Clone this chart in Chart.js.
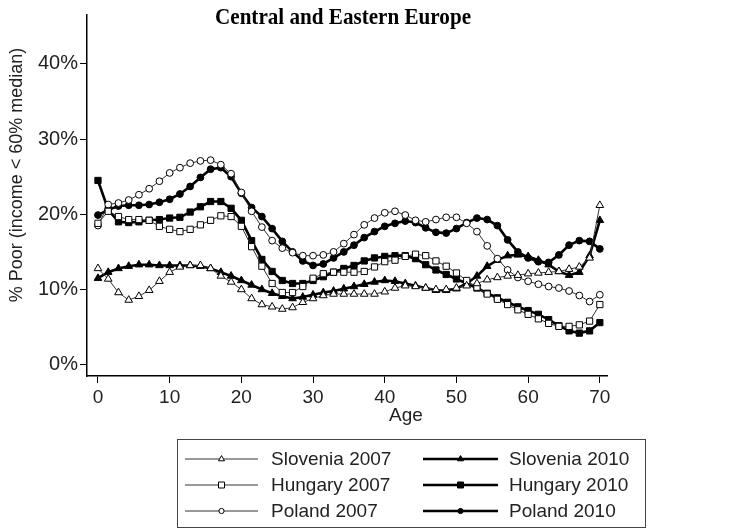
<!DOCTYPE html>
<html>
<head>
<meta charset="utf-8">
<script src="https://cdn.jsdelivr.net/npm/chart.js@4.4.1/dist/chart.umd.min.js"></script>
<style>
  html, body { margin: 0; padding: 0; background: #fff; }
  #wrap { width: 736px; height: 529px; }
</style>
</head>
<body>
<div id="wrap"><canvas id="myChart" width="736" height="529"></canvas></div>
<script>
// age grid (50 points, 0-70)
const ages = [0, 1.43, 2.86, 4.29, 5.71, 7.14, 8.57, 10, 11.43, 12.86,
  14.29, 15.71, 17.14, 18.57, 20, 21.43, 22.86, 24.29, 25.71, 27.14,
  28.57, 30, 31.43, 32.86, 34.29, 35.71, 37.14, 38.57, 40, 41.43,
  42.86, 44.29, 45.71, 47.14, 48.57, 50, 51.43, 52.86, 54.29, 55.71,
  57.14, 58.57, 60, 61.43, 62.86, 64.29, 65.71, 67.14, 68.57, 70];

const slovenia2007 = [12.8, 11.4, 9.6, 8.6, 9.1, 9.9, 11.1, 12.3, 13.0, 13.2,
  13.2, 12.8, 11.8, 11.0, 10.0, 8.8, 8.0, 7.7, 7.4, 7.6,
  8.3, 8.8, 9.2, 9.4, 9.4, 9.4, 9.4, 9.4, 9.7, 10.2,
  10.5, 10.4, 10.2, 10.0, 10.0, 10.2, 10.5, 10.8, 11.3, 11.6,
  11.8, 11.9, 12.1, 12.2, 12.3, 12.4, 12.7, 13.0, 14.2, 21.2];

const hungary2007 = [18.8, 20.4, 19.7, 19.3, 19.3, 19.2, 18.4, 18.0, 17.7, 18.0,
  18.6, 19.2, 19.8, 19.7, 18.4, 15.7, 13.1, 10.8, 9.6, 9.6,
  10.4, 11.5, 12.1, 12.3, 12.3, 12.3, 12.4, 13.0, 13.7, 13.9,
  14.4, 14.7, 14.5, 13.8, 13.1, 12.2, 11.2, 10.3, 9.4, 8.7,
  8.0, 7.3, 6.7, 6.1, 5.5, 5.1, 5.1, 5.3, 5.8, 8.0];

const poland2007 = [18.5, 21.3, 21.5, 21.9, 22.6, 23.4, 24.4, 25.5, 26.2, 26.8,
  27.1, 27.2, 26.6, 25.4, 22.9, 20.4, 18.3, 16.5, 15.5, 14.9,
  14.5, 14.5, 14.6, 15.0, 16.1, 17.3, 18.6, 19.5, 20.2, 20.4,
  19.9, 19.2, 19.0, 19.3, 19.6, 19.6, 18.8, 17.7, 15.8, 14.1,
  12.6, 11.6, 11.1, 10.7, 10.4, 10.2, 9.8, 9.2, 8.4, 9.3];

const slovenia2010 = [11.5, 12.3, 12.8, 13.1, 13.3, 13.3, 13.2, 13.2, 13.2, 13.2,
  13.1, 12.8, 12.3, 11.8, 11.2, 10.6, 10.0, 9.5, 9.1, 8.8,
  9.0, 9.3, 9.6, 9.8, 10.1, 10.4, 10.7, 11.0, 11.2, 11.1,
  10.8, 10.5, 10.2, 9.9, 9.9, 10.1, 10.8, 11.8, 13.1, 13.9,
  14.5, 14.6, 14.4, 13.9, 13.3, 12.4, 11.9, 12.3, 14.5, 19.2];

const hungary2010 = [24.5, 20.6, 19.0, 18.9, 19.0, 19.2, 19.3, 19.5, 19.6, 20.3,
  21.0, 21.7, 21.7, 20.8, 19.2, 16.5, 14.0, 12.4, 11.2, 10.8,
  10.8, 11.2, 11.7, 12.3, 12.8, 13.2, 13.8, 14.2, 14.4, 14.5,
  14.5, 14.1, 13.3, 12.6, 12.0, 11.4, 10.8, 10.2, 9.5, 8.9,
  8.3, 7.7, 7.2, 6.7, 6.0, 5.2, 4.5, 4.2, 4.5, 5.6];

const poland2010 = [19.9, 20.6, 21.1, 21.2, 21.2, 21.3, 21.6, 22.0, 22.7, 23.7,
  24.9, 26.0, 26.2, 25.0, 22.8, 20.9, 19.7, 18.1, 16.4, 15.0,
  13.8, 13.2, 13.4, 14.2, 15.0, 15.9, 16.9, 17.7, 18.4, 18.8,
  19.1, 18.9, 18.2, 17.6, 17.5, 18.1, 18.9, 19.5, 19.3, 18.5,
  16.6, 15.0, 14.2, 13.7, 13.6, 14.6, 15.9, 16.5, 16.4, 15.4];

const xTicks = [0, 10, 20, 30, 40, 50, 60, 70];
const yTicks = [0, 10, 20, 30, 40];
const titleText = 'Central and Eastern Europe';
const xTitle = 'Age';
const yTitle = '% Poor (income < 60% median)';

function series(label, values, style, thick) {
  return {
    label: label,
    data: ages.map((a, i) => ({x: a, y: values[i]})),
    borderColor: thick ? '#000' : '#333',
    borderWidth: thick ? 2.6 : 1,
    pointStyle: style,
    pointRadius: style === 'circle' ? 3.4 : 4.4,
    pointBorderWidth: 1,
    pointBorderColor: '#000',
    pointBackgroundColor: thick ? '#000' : '#fff',
    tension: 0,
    thick: thick
  };
}

const datasets = [
  series('Slovenia 2007', slovenia2007, 'triangle', false),
  series('Hungary 2007', hungary2007, 'rect', false),
  series('Poland 2007', poland2007, 'circle', false),
  series('Slovenia 2010', slovenia2010, 'triangle', true),
  series('Hungary 2010', hungary2010, 'rect', true),
  series('Poland 2010', poland2010, 'circle', true)
];

function marker(ctx, style, x, y, r, filled) {
  ctx.beginPath();
  if (style === 'circle') {
    ctx.arc(x, y, r, 0, Math.PI * 2);
  } else if (style === 'rect') {
    ctx.rect(x - r, y - r, 2 * r, 2 * r);
  } else {
    ctx.moveTo(x, y - r * 1.15);
    ctx.lineTo(x + r, y + r * 0.6);
    ctx.lineTo(x - r, y + r * 0.6);
    ctx.closePath();
  }
  ctx.fillStyle = filled ? '#000' : '#fff';
  ctx.fill();
  ctx.lineWidth = 1;
  ctx.strokeStyle = '#000';
  ctx.stroke();
}

const decor = {
  id: 'decor',
  afterDraw(chart) {
    const ctx = chart.ctx;
    ctx.save();
    // title, squeezed to the reference width
    ctx.fillStyle = '#000';
    ctx.font = 'bold 24px "Liberation Serif"';
    ctx.textAlign = 'left';
    ctx.textBaseline = 'alphabetic';
    const tw = ctx.measureText(titleText).width;
    ctx.save();
    ctx.translate(215, 24);
    ctx.scale(256 / tw, 1);
    ctx.fillText(titleText, 0, 0);
    ctx.restore();

    // axis titles
    ctx.fillStyle = '#222';
    ctx.font = '19px "Liberation Sans"';
    ctx.textAlign = 'center';
    ctx.textBaseline = 'middle';
    ctx.fillText(xTitle, 406, 416);
    ctx.font = '18px "Liberation Sans"';
    ctx.save();
    ctx.translate(17, 175);
    ctx.rotate(-Math.PI / 2);
    ctx.fillText(yTitle, 0, 0);
    ctx.restore();

    // legend
    ctx.strokeStyle = '#444';
    ctx.lineWidth = 1;
    ctx.strokeRect(177.5, 439.5, 468, 88);
    const rows = [459, 485, 511];
    const cols = [{l0: 185, l1: 258, tx: 271}, {l0: 423, l1: 498, tx: 509}];
    ctx.font = '19px "Liberation Sans"';
    ctx.textAlign = 'left';
    ctx.textBaseline = 'middle';
    chart.data.datasets.forEach((ds, i) => {
      const c = cols[i < 3 ? 0 : 1];
      const y = rows[i % 3];
      ctx.beginPath();
      ctx.moveTo(c.l0, y);
      ctx.lineTo(c.l1, y);
      ctx.strokeStyle = ds.thick ? '#000' : '#333';
      ctx.lineWidth = ds.thick ? 2.6 : 1;
      ctx.stroke();
      marker(ctx, ds.pointStyle, (c.l0 + c.l1) / 2, y, ds.pointStyle === 'circle' ? 2.6 : 3, ds.thick);
      ctx.fillStyle = '#222';
      ctx.fillText(ds.label, c.tx, y + 1);
    });
    ctx.restore();
  }
};

const config = {
  type: 'line',
  data: { datasets: datasets },
  options: {
    responsive: false,
    animation: false,
    layout: { padding: { top: 15, right: 129, bottom: 113, left: 0 } },
    plugins: { legend: { display: false }, title: { display: false }, tooltip: { enabled: false } },
    scales: {
      x: {
        type: 'linear',
        min: -1.53,
        max: 71,
        afterBuildTicks: s => { s.ticks = xTicks.map(v => ({value: v})); },
        afterFit: s => { s.height = 40; },
        grid: { display: true, drawOnChartArea: false, drawTicks: true, tickLength: 7, color: '#000', lineWidth: 1 },
        border: { display: true, color: '#000', width: 1.5 },
        ticks: { color: '#222', padding: 3, maxRotation: 0, font: { family: 'Liberation Sans', size: 19 } }
      },
      y: {
        min: -1.5,
        max: 46.5,
        afterBuildTicks: s => { s.ticks = yTicks.map(v => ({value: v})); },
        afterFit: s => { s.width = 87; },
        grid: { display: true, drawOnChartArea: false, drawTicks: true, tickLength: 7, color: '#000', lineWidth: 1 },
        border: { display: true, color: '#000', width: 1.5 },
        ticks: { color: '#222', padding: 2, font: { family: 'Liberation Sans', size: 20 }, callback: v => v + '%' }
      }
    }
  },
  plugins: [decor]
};

const ctx = document.getElementById('myChart').getContext('2d');
new Chart(ctx, config);
</script>
</body>
</html>
